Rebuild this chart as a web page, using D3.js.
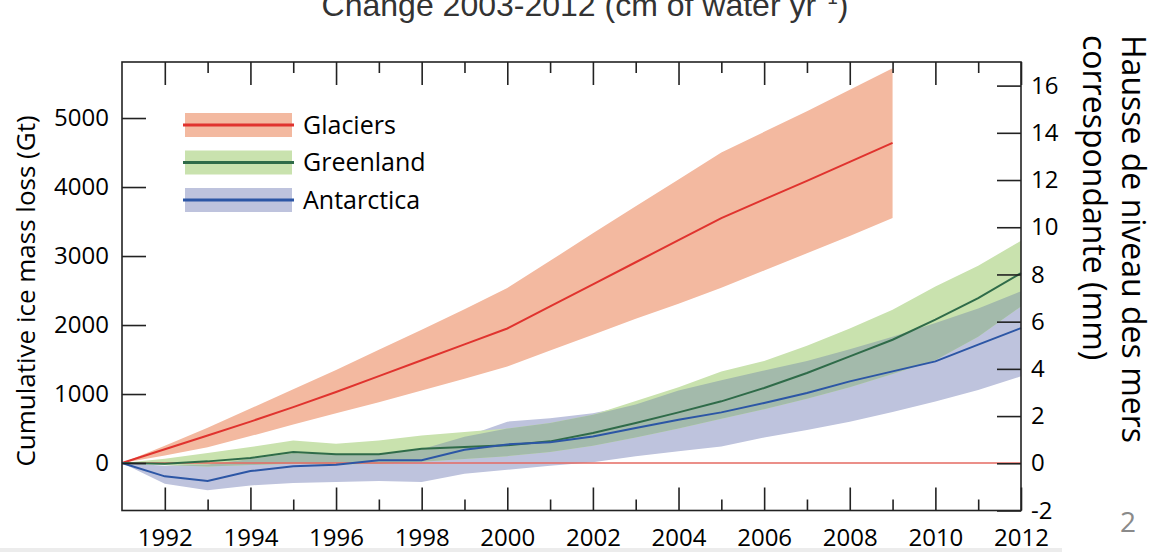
<!DOCTYPE html>
<html>
<head>
<meta charset="utf-8">
<script src="https://cdn.jsdelivr.net/npm/d3@7"></script>
<style>
body { margin: 0; background: #fff; }
svg { display: block; font-family: "Open Sans", sans-serif; }
</style>
</head>
<body>
<div class="chart"></div>
<script>
// ---- data (Gt) ----
const years = [1991, 1992, 1993, 1994, 1995, 1996, 1997, 1998, 1999, 2000, 2001,
               2002, 2003, 2004, 2005, 2006, 2007, 2008, 2009, 2010, 2011, 2012];
const glacierYears = [1991, 1992, 1993, 1994, 1995, 1996, 1997, 1998, 1999, 2000,
                      2001, 2002, 2003, 2004, 2005, 2006, 2007, 2008, 2009];

const glacierMean  = [0, 200, 400, 600, 810, 1030, 1260, 1490, 1720, 1950, 2270, 2590, 2910, 3230, 3550, 3820, 4090, 4365, 4640];
const glacierUpper = [0, 250, 510, 790, 1070, 1350, 1640, 1930, 2230, 2536, 2930, 3330, 3720, 4110, 4500, 4800, 5100, 5410, 5720];
const glacierLower = [0, 110, 230, 390, 560, 720, 880, 1050, 1220, 1400, 1630, 1860, 2090, 2310, 2540, 2790, 3040, 3290, 3550];

const greenlandMean  = [0, -10, 24, 72, 160, 126, 126, 208, 232, 256, 314, 435, 580, 734, 894, 1087, 1304, 1546, 1787, 2077, 2391, 2753];
const greenlandUpper = [0, 63, 145, 232, 328, 280, 328, 400, 450, 500, 580, 700, 900, 1100, 1328, 1480, 1700, 1950, 2220, 2560, 2860, 3220];
const greenlandLower = [0, -30, -50, -30, -10, -20, -10, 20, 60, 100, 160, 250, 370, 500, 640, 780, 930, 1100, 1290, 1490, 1830, 2270];

const antarcticaMean  = [0, -193, -261, -116, -48, -24, 39, 39, 193, 270, 300, 386, 507, 628, 734, 869, 1014, 1183, 1328, 1473, 1715, 1956];
const antarcticaUpper = [0, -40, -20, 60, 140, 120, 130, 200, 380, 600, 650, 720, 850, 1050, 1200, 1340, 1480, 1650, 1830, 2030, 2240, 2490];
const antarcticaLower = [0, -300, -396, -324, -290, -275, -260, -275, -155, -97, -40, 10, 100, 170, 240, 370, 480, 600, 740, 890, 1060, 1256];

const majorYears = [1992, 1994, 1996, 1998, 2000, 2002, 2004, 2006, 2008, 2010, 2012];
const minorYears = [1993, 1995, 1997, 1999, 2001, 2003, 2005, 2007, 2009, 2011];
const gtTicks = [0, 1000, 2000, 3000, 4000, 5000];
const mmTicks = [-2, 0, 2, 4, 6, 8, 10, 12, 14, 16];
const legendItems = ['Glaciers', 'Greenland', 'Antarctica'];

// ---- layout ----
const W = 1163, H = 552;
const plot = {left: 122, right: 1021, top: 62, bottom: 510.5};

const colors = {
    glacierBand: '#f3b9a0', glacierLine: '#e0332e',
    greenBand: '#c9e2ae', greenLine: '#2f6b49',
    blueBand: '#bec3dd', blueLine: '#2c56a5',
    overlap: '#a3baab', zero: '#e46a62'
};

const svg = d3.select('.chart')
    .append('svg')
    .attr('width', W)
    .attr('height', H);

const x = d3.scaleLinear().domain([1991, 2012]).range([plot.left, plot.right]);
const yGt = d3.scaleLinear().domain([-688, 5812]).range([plot.bottom, plot.top]);
const yMm = d3.scaleLinear().domain([-2, 17]).range([plot.bottom, plot.top]);

// faint slide edge at the bottom
svg.append('rect')
    .attr('x', 0).attr('y', 548).attr('width', 1062).attr('height', 4)
    .attr('fill', '#ececec');

// ---- bands ----
const band = (xs, lo, hi) => d3.area()
    .x((d, i) => x(xs[i]))
    .y0((d, i) => yGt(lo[i]))
    .y1((d, i) => yGt(hi[i]))(xs);

svg.append('path').attr('d', band(glacierYears, glacierLower, glacierUpper)).attr('fill', colors.glacierBand);
svg.append('path').attr('d', band(years, antarcticaLower, antarcticaUpper)).attr('fill', colors.blueBand);
svg.append('path').attr('d', band(years, greenlandLower, greenlandUpper)).attr('fill', colors.greenBand);

// overlap of the Greenland and Antarctica ranges
const overlapLo = years.map((d, i) => Math.max(greenlandLower[i], antarcticaLower[i]));
const overlapHi = years.map((d, i) => Math.max(overlapLo[i], Math.min(greenlandUpper[i], antarcticaUpper[i])));
svg.append('path').attr('d', band(years, overlapLo, overlapHi)).attr('fill', colors.overlap);

// zero line
svg.append('line')
    .attr('x1', x(1991)).attr('x2', x(2012))
    .attr('y1', yGt(0)).attr('y2', yGt(0))
    .attr('stroke', colors.zero).attr('stroke-width', 1.5);

// ---- mean lines ----
const line = (xs, vals) => d3.line()
    .x((d, i) => x(xs[i]))
    .y((d, i) => yGt(vals[i]))(xs);

svg.append('path').attr('d', line(glacierYears, glacierMean))
    .attr('fill', 'none').attr('stroke', colors.glacierLine).attr('stroke-width', 2);
svg.append('path').attr('d', line(years, greenlandMean))
    .attr('fill', 'none').attr('stroke', colors.greenLine).attr('stroke-width', 2);
svg.append('path').attr('d', line(years, antarcticaMean))
    .attr('fill', 'none').attr('stroke', colors.blueLine).attr('stroke-width', 2);

// ---- axes ----
function styleAxis(g) {
    g.select('.domain').remove();
    g.selectAll('line').attr('stroke', '#222').attr('stroke-width', 1.6);
    g.selectAll('text').attr('fill', '#000').style('font-size', '24px')
        .style('font-family', '"Open Sans", sans-serif');
}

svg.append('g')
    .attr('transform', 'translate(0,' + plot.bottom + ')')
    .call(d3.axisBottom(x).tickValues(majorYears).tickFormat(d3.format('d'))
        .tickSizeInner(-23).tickSizeOuter(0).tickPadding(18))
    .call(styleAxis);
svg.append('g')
    .attr('transform', 'translate(0,' + plot.bottom + ')')
    .call(d3.axisBottom(x).tickValues(minorYears).tickFormat('')
        .tickSizeInner(-11).tickSizeOuter(0))
    .call(styleAxis);
svg.append('g')
    .attr('transform', 'translate(0,' + plot.top + ')')
    .call(d3.axisTop(x).tickValues(majorYears).tickFormat('')
        .tickSizeInner(-23).tickSizeOuter(0))
    .call(styleAxis);
svg.append('g')
    .attr('transform', 'translate(0,' + plot.top + ')')
    .call(d3.axisTop(x).tickValues(minorYears).tickFormat('')
        .tickSizeInner(-11).tickSizeOuter(0))
    .call(styleAxis);
svg.append('g')
    .attr('transform', 'translate(' + plot.left + ',0)')
    .call(d3.axisLeft(yGt).tickValues(gtTicks).tickFormat(d3.format('d'))
        .tickSizeInner(-24).tickSizeOuter(0).tickPadding(13))
    .call(styleAxis);
svg.append('g')
    .attr('transform', 'translate(' + plot.right + ',0)')
    .call(d3.axisRight(yMm).tickValues(mmTicks).tickFormat(d => d < 0 ? '-' + Math.abs(d) : d)
        .tickSizeInner(-24).tickSizeOuter(0).tickPadding(10))
    .call(styleAxis);

// frame
svg.append('rect')
    .attr('x', plot.left).attr('y', plot.top)
    .attr('width', plot.right - plot.left).attr('height', plot.bottom - plot.top)
    .attr('fill', 'none').attr('stroke', '#222').attr('stroke-width', 1.6);

// ---- legend ----
const legendColors = [
    [colors.glacierBand, colors.glacierLine],
    [colors.greenBand, colors.greenLine],
    [colors.blueBand, colors.blueLine]
];
const legend = svg.append('g').attr('class', 'legend');
legend.selectAll('rect')
    .data(legendItems)
    .enter()
    .append('rect')
    .attr('x', 185).attr('y', (d, i) => 113 + i * 37.5)
    .attr('width', 107).attr('height', 24)
    .attr('fill', (d, i) => legendColors[i][0]);
legend.selectAll('line')
    .data(legendItems)
    .enter()
    .append('line')
    .attr('x1', 183).attr('x2', 294)
    .attr('y1', (d, i) => 125 + i * 37.5).attr('y2', (d, i) => 125 + i * 37.5)
    .attr('stroke', (d, i) => legendColors[i][1]).attr('stroke-width', 3);
legend.selectAll('text')
    .data(legendItems)
    .enter()
    .append('text')
    .attr('x', 303).attr('y', (d, i) => 125 + i * 37.5)
    .attr('dy', '0.35em')
    .style('font-size', '25px').attr('fill', '#000')
    .text(d => d);

// ---- titles ----
const title = svg.append('text')
    .attr('x', 585).attr('y', 16)
    .attr('text-anchor', 'middle')
    .style('font-family', '"Liberation Sans", Arial, sans-serif')
    .style('font-size', '32px').attr('fill', '#333')
    .text('Change 2003-2012 (cm of water yr');
title.append('tspan').attr('dy', -12).style('font-size', '19px').text('−1');
title.append('tspan').attr('dy', 12).text(')');

svg.append('text')
    .attr('transform', 'translate(35,291) rotate(-90)')
    .attr('text-anchor', 'middle')
    .style('font-size', '26px').attr('fill', '#000')
    .text('Cumulative ice mass loss (Gt)');

svg.append('text')
    .attr('transform', 'translate(1122,35) rotate(90)')
    .style('font-size', '32px').attr('fill', '#000')
    .text('Hausse de niveau des mers');
svg.append('text')
    .attr('transform', 'translate(1083,35) rotate(90)')
    .style('font-size', '32px').attr('fill', '#000')
    .text('correspondante (mm)');

// slide number
svg.append('text')
    .attr('x', 1120).attr('y', 532)
    .style('font-size', '28px').attr('fill', '#8a8a8a')
    .text('2');
</script>
</body>
</html>
